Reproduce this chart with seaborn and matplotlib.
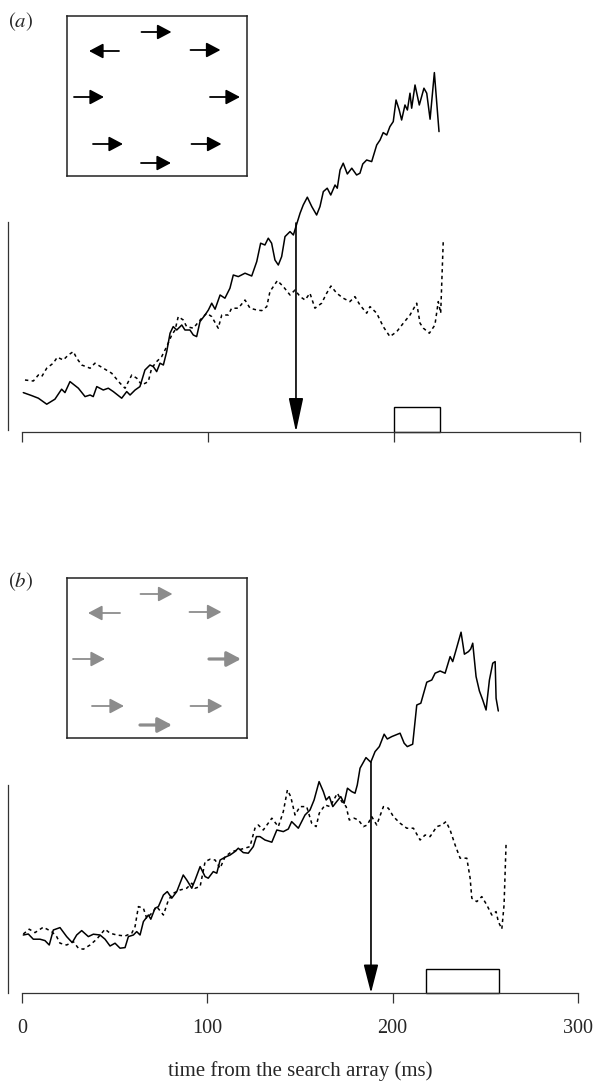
import numpy as np
import pandas as pd
import seaborn as sns
import matplotlib.pyplot as plt
from matplotlib.patches import Rectangle

# ---- panel (a): firing rate traces, time from search array (ms) ----
a_solid_t = [0.7, 5.2, 8.8, 13.3, 17.7, 21.3, 23.1, 25.8, 30.3, 33.9, 36.6, 38.3, 40.2, 43.7, 46.4, 49.1,
             53.6, 56.3, 58.1, 60.8, 63.4, 66.1, 68.8, 70.6, 72.4, 74.2, 76.0, 77.8, 79.6, 81.3, 83.2, 85.9,
             87.6, 90.3, 92.1, 93.9, 95.7, 98.4, 100.2, 102.0, 103.8, 106.5, 109.1, 111.8, 113.6, 116.3,
             119.9, 123.5, 126.2, 128.3, 130.6, 132.4, 134.2, 136.0, 137.8, 139.6, 141.4, 144.1, 145.9,
             147.7, 149.5, 151.2, 153.4, 155.8, 158.4, 160.2, 162.0, 164.1, 166.0, 168.3, 169.5, 171.0,
             172.7, 174.9, 177.3, 179.9, 181.7, 183.2, 185.3, 188.0, 190.7, 192.5, 194.2, 196.1, 197.8,
             199.6, 201.1, 202.8, 204.1, 205.9, 207.2, 208.6, 209.5, 211.3, 213.6, 216.1, 217.6, 219.4,
             221.7, 224.2]
a_solid_y = [19.7, 18.2, 16.9, 13.9, 16.4, 21.4, 19.7, 25.2, 21.9, 17.7, 18.5, 17.7, 22.7, 21.0, 21.9, 20.2,
             16.9, 20.2, 18.5, 21.0, 22.7, 31.0, 33.5, 32.7, 30.2, 34.4, 33.5, 40.2, 49.4, 52.7, 51.0, 53.5,
             51.0, 51.0, 48.5, 47.7, 55.2, 58.5, 61.0, 64.4, 61.4, 68.5, 66.9, 71.9, 78.5, 77.7,
             79.4, 78.0, 85.2, 94.4, 93.5, 96.9, 94.4, 86.0, 83.5, 87.7, 97.7, 100.2, 98.5,
             104.0, 109.4, 113.5, 117.4, 112.7, 108.5, 112.7, 120.2, 121.9, 118.5, 123.5, 121.9, 131.0,
             134.4, 129.0, 131.9, 128.5, 129.4, 134.0, 136.0, 135.2, 143.5, 146.0, 149.7, 148.5, 152.7,
             155.2, 166.0, 161.0, 156.0, 163.5, 161.0, 169.4, 161.9, 173.5, 163.5, 171.9, 169.4, 156.4,
             179.7, 150.2]
a_dot_t = [1.6, 6.1, 8.8, 10.6, 13.3, 16.8, 19.0, 22.2, 24.9, 27.6, 29.4, 32.1, 36.6, 39.2, 43.7, 48.2,
           52.7, 55.4, 59.0, 61.7, 64.4, 67.9, 69.7, 72.4, 75.1, 77.8, 80.5, 82.3, 84.0, 86.7, 88.5, 92.1,
           96.6, 99.3, 102.0, 105.5, 107.4, 110.9, 112.7, 116.3, 119.9, 122.6, 126.2, 128.9, 131.6, 133.3,
           137.3, 140.5, 144.1, 146.8, 149.5, 152.2, 154.8, 157.5, 161.1, 163.8, 166.1, 169.2, 172.7,
           176.3, 179.0, 181.7, 185.3, 187.1, 190.7, 194.2, 197.8, 201.5, 205.0, 208.6, 212.2, 214.0,
           215.8, 219.0, 222.0, 223.8, 225.1, 226.5]
a_dot_y = [26.0, 25.5, 28.5, 27.7, 31.9, 34.4, 37.4, 36.0, 38.5, 40.2, 36.9, 33.5, 31.9, 34.4, 31.9, 29.4,
           24.4, 21.9, 28.5, 26.9, 23.5, 25.2, 31.9, 35.2, 37.7, 42.7, 48.5, 51.0, 57.7, 56.0, 52.7, 51.9,
           56.9, 59.4, 57.7, 51.9, 58.5, 58.5, 61.9, 61.9, 66.0, 61.9, 61.0, 60.7, 62.7, 70.2,
           75.7, 72.7, 68.5, 71.0, 67.7, 66.0, 69.4, 61.9, 64.4, 69.4, 73.0, 69.4, 66.9,
           65.2, 67.7, 63.5, 59.4, 62.7, 59.4, 52.7, 47.7, 50.2, 54.4, 58.5, 64.4, 54.4,
           51.9, 49.4, 53.5, 65.2, 59.4, 96.0]
a_arrow_t, a_arrow_top = 147.3, 104.5        # target discrimination time
a_box = (200.0, 224.7, 12.5)                 # saccade onset window: start, end, height

# ---- panel (b) ----
b_solid_t = [0.7, 3.4, 6.1, 9.7, 12.4, 14.7, 16.9, 20.5, 24.1, 27.1, 29.5, 32.2, 35.8, 38.5, 42.1, 44.8,
             47.5, 50.2, 52.9, 55.6, 57.4, 60.1, 61.9, 63.7, 65.5, 68.2, 69.5, 71.8, 73.6, 76.3, 78.4, 80.8,
             83.5, 87.0, 88.9, 91.6, 93.4, 96.1, 98.8, 100.5, 103.2, 105.1, 106.9, 109.6, 112.3, 114.9,
             116.7, 119.4, 122.1, 124.8, 126.5, 128.4, 131.1, 134.8, 137.5, 141.0, 143.7, 145.5, 149.1,
             152.7, 155.4, 157.6, 160.3, 162.6, 164.1, 165.8, 167.7, 169.8, 172.0, 173.8, 175.6, 177.9,
             179.7, 180.9, 182.4, 185.6, 188.2, 190.5, 192.8, 195.4, 197.1, 199.5, 204.0, 206.2, 207.9,
             210.8, 213.0, 215.2, 218.4, 221.1, 222.9, 225.6, 228.3, 231.0, 232.4, 234.2, 236.9, 238.7,
             240.9, 242.1, 243.2, 245.0, 246.8, 248.6, 250.4, 252.2, 254.0, 255.3, 255.8, 257.0]
b_solid_y = [29.0, 29.5, 26.9, 26.9, 26.2, 24.0, 31.5, 32.7, 28.2, 25.2, 29.0, 31.2, 28.2, 29.4, 29.0, 26.9,
             23.5, 24.9, 22.4, 22.7, 28.2, 29.0, 30.7, 29.0, 35.7, 39.0, 36.9, 42.4, 43.2, 49.0, 50.7, 47.4,
             50.7, 59.0, 56.5, 52.4, 56.5, 63.2, 58.2, 57.4, 60.7, 59.9, 66.5, 67.9, 69.0, 70.7,
             72.4, 70.2, 69.9, 73.2, 78.2, 78.2, 76.5, 75.4, 81.5, 80.7, 82.0, 85.7, 82.4,
             89.0, 91.5, 96.5, 105.7, 100.7, 96.5, 98.2, 93.2, 95.7, 98.2, 94.9, 102.4, 100.7,
             99.9, 104.0, 112.4, 117.7, 115.4, 120.7, 123.2, 129.4, 127.0, 128.2, 129.9, 124.9, 123.2,
             124.4, 144.0, 144.9, 155.4, 156.5, 159.9, 161.0, 159.9, 168.2, 165.7, 171.5, 180.4, 169.4,
             170.7, 172.0, 174.9, 158.2, 151.0, 146.5, 141.5, 156.5, 164.9, 165.7, 147.4, 141.0]
b_dot_t = [0.7, 3.9, 7.0, 11.5, 16.0, 18.7, 20.5, 24.1, 27.7, 30.4, 33.1, 36.7, 40.3, 44.8, 47.5, 51.1,
           55.6, 59.2, 61.0, 62.8, 65.5, 67.3, 70.0, 72.7, 76.3, 79.0, 81.7, 85.3, 88.9, 91.6, 93.4, 96.1,
           98.8, 101.5, 104.2, 106.9, 109.6, 113.2, 116.7, 120.3, 123.0, 125.7, 127.5, 130.2, 134.8,
           138.3, 141.0, 143.2, 145.0, 147.3, 150.0, 153.6, 156.3, 158.7, 160.4, 163.5, 166.2, 170.2,
           172.5, 174.9, 176.6, 179.2, 181.5, 184.2, 186.3, 188.7, 191.4, 195.0, 197.7, 200.4, 204.0,
           207.6, 211.2, 214.8, 217.5, 220.2, 223.8, 226.5, 228.8, 231.0, 233.7, 236.4, 240.0, 241.8,
           242.7, 245.4, 248.1, 250.8, 253.5, 255.8, 257.0, 258.9, 260.1, 261.2]
b_dot_y = [29.5, 31.9, 30.2, 32.9, 30.7, 28.2, 24.9, 24.0, 25.7, 22.4, 21.9, 24.0, 26.9, 31.9, 29.9, 29.0,
           28.5, 29.9, 33.2, 43.2, 42.4, 37.4, 39.9, 43.2, 39.0, 46.5, 49.9, 51.5, 52.4, 54.9, 52.4, 53.2,
           65.7, 66.9, 66.5, 62.4, 68.2, 70.7, 71.5, 72.4, 73.2, 82.4, 84.0, 81.5, 87.4,
           83.2, 90.7, 101.5, 98.2, 89.0, 93.2, 93.2, 84.9, 83.2, 89.9, 94.0, 93.2, 99.9,
           95.7, 93.2, 86.5, 87.4, 86.5, 83.2, 84.0, 88.2, 84.0, 93.2, 92.4, 88.2, 84.9,
           82.4, 82.4, 76.5, 79.0, 78.2, 83.2, 84.0, 85.7, 81.5, 74.0, 67.4, 67.4, 57.4,
           47.4, 45.7, 48.2, 44.0, 39.0, 40.7, 35.7, 32.0, 44.0, 74.9]
b_arrow_t, b_arrow_top = 188.3, 115.5
b_box = (218.0, 257.4, 12.0)

x_ticks = [0, 100, 200, 300]
x_label = "time from the search array (ms)"

# search array items (inset units, y downwards); +1 right, -1 left
item_x = [89.5, 37, 138.5, 22, 158, 41, 139.5, 89]
item_y = [16, 35, 34, 81, 81, 128, 128, 147]
item_dir = [1, -1, 1, 1, 1, 1, 1, 1]
b_item_lw = [1.3, 1.3, 1.3, 1.3, 2.3, 1.3, 1.3, 2.3]

sns.set_style("ticks")
plt.rcParams['font.family'] = ['Liberation Serif', 'DejaVu Serif']
plt.rcParams['mathtext.fontset'] = 'stix'

W, H = 601, 1084
fig = plt.figure(figsize=(W / 100, H / 100), dpi=100)


def trace_panel(rect, solid_t, solid_y, dot_t, dot_y, arrow_t, arrow_top, box, ymax, ybound,
                head_len, show_labels):
    ax = fig.add_axes(rect)
    sns.lineplot(x=solid_t, y=solid_y, ax=ax, color='black', lw=1.1, estimator=None, sort=False)
    sns.lineplot(x=dot_t, y=dot_y, ax=ax, color='black', lw=1.1, linestyle=(0, (2.2, 2.2)),
                 estimator=None, sort=False)
    ax.add_patch(Rectangle((box[0], 0), box[1] - box[0], box[2], fill=False, lw=1.0,
                           edgecolor='black', clip_on=False))
    ax.annotate('', xy=(arrow_t, 0), xytext=(arrow_t, arrow_top),
                arrowprops=dict(arrowstyle=f'-|>,head_length={head_len},head_width=0.45',
                                color='black', lw=1.2, shrinkA=0, shrinkB=0),
                annotation_clip=False)
    ax.set_xlim(0, 300)
    ax.set_ylim(0, ymax)
    sns.despine(ax=ax)
    ax.spines['left'].set_position(('outward', 10))
    ax.spines['left'].set_bounds(*ybound)
    for s in ('left', 'bottom'):
        ax.spines[s].set_linewidth(0.9)
        ax.spines[s].set_color('#333333')
    ax.set_yticks([])
    ax.set_xticks(x_ticks)
    ax.tick_params(axis='x', direction='out', length=7.5, width=0.9, color='#333333',
                   labelsize=14.5, pad=11)
    if show_labels:
        ax.set_xticklabels([str(t) for t in x_ticks])
        ax.set_xlabel(x_label, fontsize=15, labelpad=17)
    else:
        ax.set_xticklabels([])
        ax.set_xlabel('')
    ax.set_ylabel('')
    return ax


def search_inset(rect, color, lws, length):
    ax = fig.add_axes(rect)
    ax.set_xlim(0, 180)
    ax.set_ylim(160, 0)
    ax.set_xticks([])
    ax.set_yticks([])
    for s in ax.spines.values():
        s.set_visible(True)
        s.set_linewidth(1.1)
        s.set_color('#222222')
    for x, y, d, lw in zip(item_x, item_y, item_dir, lws):
        ax.annotate('', xy=(x + d * length / 2, y), xytext=(x - d * length / 2, y),
                    arrowprops=dict(arrowstyle='-|>,head_length=0.85,head_width=0.45',
                                    color=color, lw=lw, shrinkA=0, shrinkB=0))
    return ax


# panel (a)
trace_panel([22 / W, 1 - 432 / H, 558 / W, 372 / H], a_solid_t, a_solid_y, a_dot_t, a_dot_y,
            a_arrow_t, a_arrow_top, a_box, 186, (1, 105), 2.1, False)
search_inset([67 / W, 1 - 176 / H, 180 / W, 160 / H], 'black', [1.3] * 8, 30)
fig.text(8 / W, 1 - 22 / H, r'$(\mathit{a})$', fontsize=15, ha='left', va='center')

# panel (b)
trace_panel([22 / W, 1 - 993 / H, 556 / W, 373 / H], b_solid_t, b_solid_y, b_dot_t, b_dot_y,
            b_arrow_t, b_arrow_top, b_box, 186.5, (0, 104), 1.75, True)
search_inset([67 / W, 1 - 738 / H, 180 / W, 160 / H], '#8c8c8c', b_item_lw, 32)
fig.text(8 / W, 1 - 582 / H, r'$(\mathit{b})$', fontsize=15, ha='left', va='center')

fig.savefig('out.png', dpi=100)
